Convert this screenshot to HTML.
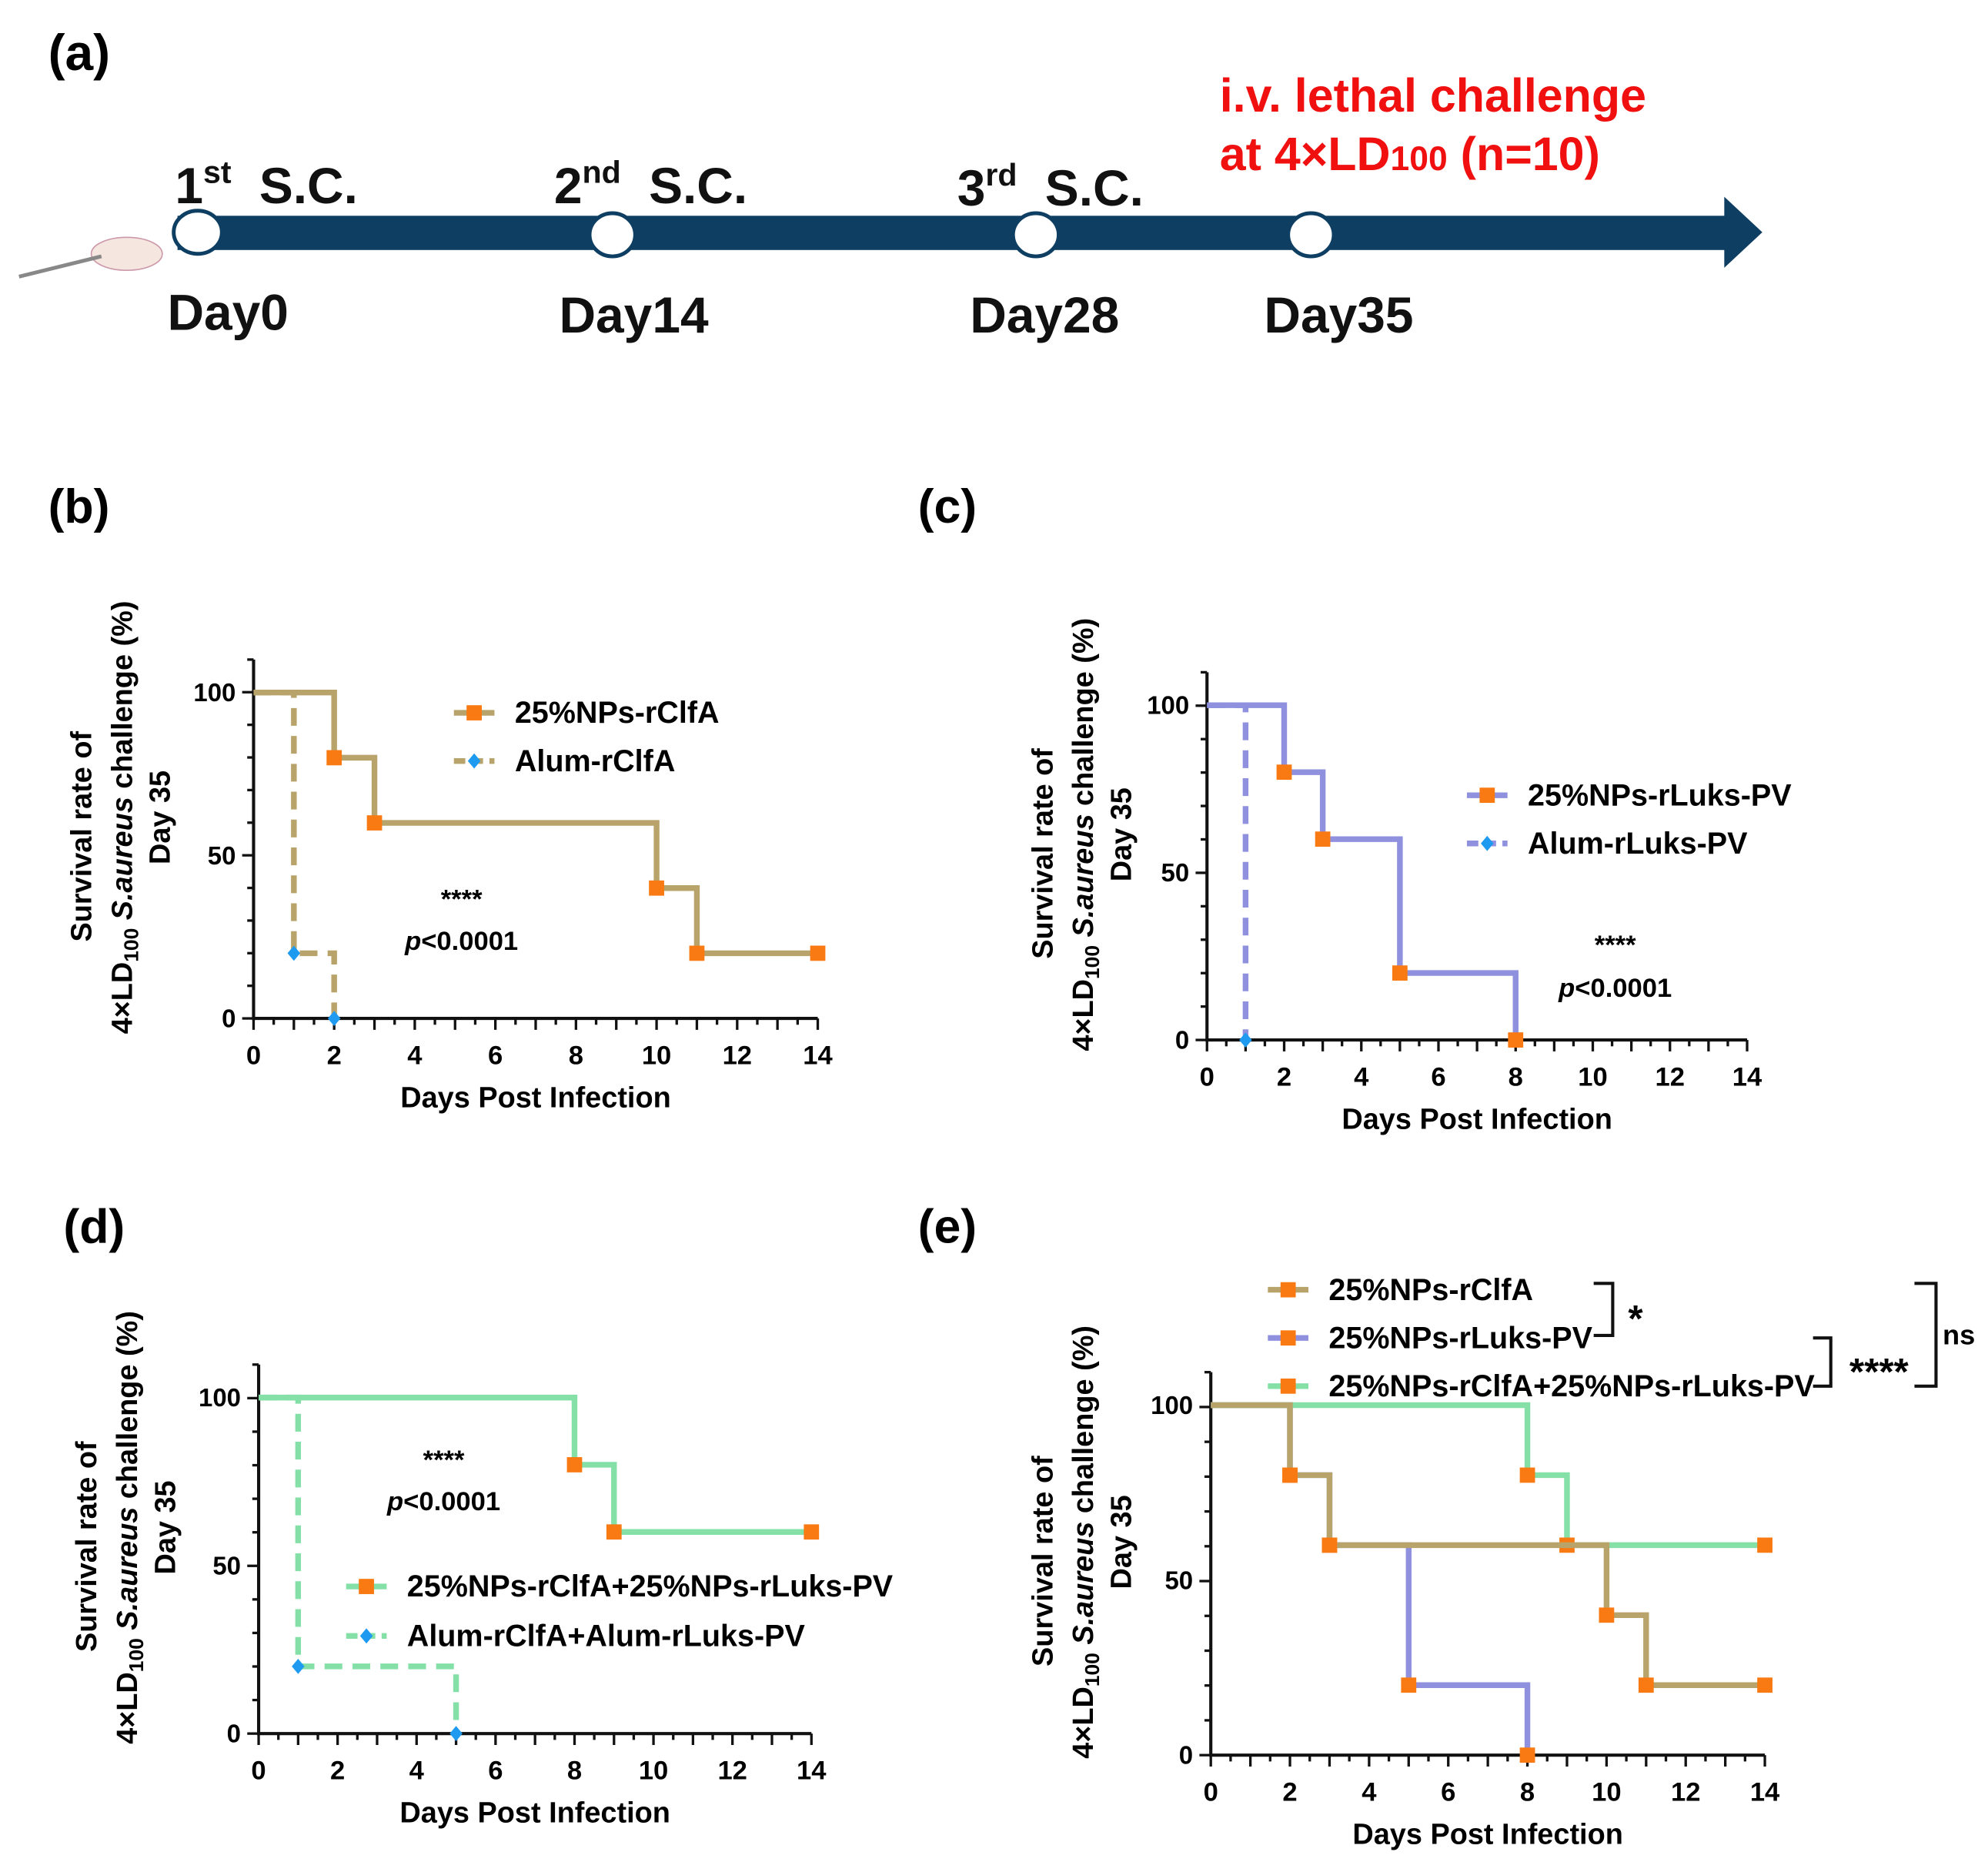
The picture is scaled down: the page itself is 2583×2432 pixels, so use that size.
<!DOCTYPE html>
<html><head><meta charset="utf-8"><style>
html,body{margin:0;padding:0;background:#fff}
svg{display:block;font-family:"Liberation Sans",Arial,sans-serif}
</style></head><body>
<svg id="fig" width="2583" height="2432" viewBox="0 0 1568 1476" xmlns="http://www.w3.org/2000/svg">
<g font-weight="bold">
<text x="38" y="55" font-size="40">(a)</text>
<rect x="140" y="170" width="1225" height="27" fill="#0e3f63"/>
<polygon points="1360,155 1390,183 1360,211" fill="#0e3f63"/>
<g fill="#fff" stroke="#0e3f63" stroke-width="3">
<ellipse cx="156" cy="183" rx="19" ry="17"/>
<ellipse cx="483" cy="185" rx="18" ry="17"/>
<ellipse cx="817" cy="185" rx="18" ry="17"/>
<ellipse cx="1034" cy="185" rx="18" ry="17"/>
</g>
<g>
<ellipse cx="100" cy="200" rx="28" ry="13" fill="#f5e6e0" stroke="#c9a" stroke-width="1"/>
<line x1="15" y1="218" x2="80" y2="202" stroke="#888" stroke-width="3"/>
</g>
<g font-size="40" fill="#111">
<text x="138" y="160">1<tspan font-size="25" dy="-16">st</tspan><tspan dy="16" dx="22">S.C.</tspan></text>
<text x="437" y="160">2<tspan font-size="25" dy="-16">nd</tspan><tspan dy="16" dx="22">S.C.</tspan></text>
<text x="755" y="162">3<tspan font-size="25" dy="-16">rd</tspan><tspan dy="16" dx="22">S.C.</tspan></text>
<text x="132" y="260">Day0</text>
<text x="441" y="262">Day14</text>
<text x="765" y="262">Day28</text>
<text x="997" y="262">Day35</text>
</g>
<g font-size="37" fill="#f01010">
<text x="962" y="88">i.v. lethal challenge</text>
<text x="962" y="134">at 4×LD<tspan font-size="27">100</tspan> (n=10)</text>
</g>
</g>
<g id="charts"></g>
</svg>
<script>
// Panel b
const bX1 = [0,2,3,10,11,14], bY1 = [100,80,60,40,20,20];
const bX2 = [0,1,2], bY2 = [100,20,0];
// Panel c
const cX1 = [0,2,3,5,8], cY1 = [100,80,60,20,0];
const cX2 = [0,1], cY2 = [100,0];
// Panel d
const dX1 = [0,8,9,14], dY1 = [100,80,60,60];
const dX2 = [0,1,5], dY2 = [100,20,0];
// Panel e
const eXa = [0,2,3,10,11,14], eYa = [100,80,60,40,20,20];
const eXb = [0,2,3,5,8], eYb = [100,80,60,20,0];
const eXc = [0,8,9,14], eYc = [100,80,60,60];
const xTicks = [0,2,4,6,8,10,12,14];
const yTicks = [0,50,100];

const NS="http://www.w3.org/2000/svg";
const root=document.getElementById('charts');
function mk(tag,attrs,parent){const e=document.createElementNS(NS,tag);for(const k in attrs)e.setAttribute(k,attrs[k]);(parent||root).appendChild(e);return e;}
const TAN="#b8a46a",LAV="#8f90de",GRN="#84e0a6",ORG="#f97a12",BLU="#1e9bf0";

function panel(p){
  const g=mk('g',{});
  
  
  const sx=v=>p.x0+(p.x1-p.x0)*v/14, sy=v=>p.y0+(p.y100-p.y0)*v/100;
  const lab=mk('text',{x:p.lx,y:p.ly,'font-size':38,'font-weight':'bold'},g);lab.textContent=p.label;
  
  
  const ax=mk('path',{d:`M${sx(0)},${p.y100-26}V${p.y0}H${sx(14)}`,stroke:'#111','stroke-width':2.5,fill:'none'},g);
  
  
  for(let i=0;i<=28;i++){const x=sx(i/2);mk('line',{x1:x,x2:x,y1:p.y0,y2:p.y0+(i%2?5:9),stroke:'#111','stroke-width':2},g);}
  for(let i=0;i<=11;i++){const y=p.y0+(p.y100-26-p.y0)*i/11;mk('line',{x1:sx(0)-(i%5==0&&i<11?9:5),x2:sx(0),y1:y,y2:y,stroke:'#111','stroke-width':2},g);}
  xTicks.forEach(t=>{const e=mk('text',{x:sx(t),y:p.y0+36,'text-anchor':'middle','font-size':21,'font-weight':'bold'},g);e.textContent=t;
    
    });
  yTicks.forEach(t=>{const e=mk('text',{x:sx(0)-14,y:sy(t)+7,'text-anchor':'end','font-size':20,'font-weight':'bold'},g);e.textContent=t;
    
    });
  const xt=mk('text',{x:(sx(0)+sx(14))/2,y:p.y0+70,'text-anchor':'middle','font-size':23,'font-weight':'bold'},g);xt.textContent='Days Post Infection';
  
  
  const cy=(p.y0+p.y100)/2-30, cx=p.ylx;
  const yt=mk('text',{transform:`translate(${cx},${cy}) rotate(-90)`,'text-anchor':'middle','font-size':23,'font-weight':'bold'},g);
  
  
  const t1=mk('tspan',{x:-15,y:0},yt);t1.textContent='Survival rate of';
  const t2=mk('tspan',{x:0,y:32},yt);t2.innerHTML='4×LD<tspan font-size="16" dy="5">100</tspan><tspan dy="-5">  </tspan><tspan font-style="italic">S.aureus</tspan> challenge (%)';
  const t3=mk('tspan',{x:0,y:62},yt);t3.textContent='Day 35';
  p.series.forEach(s=>{
    let d=`M${sx(s.xs[0])},${sy(s.ys[0])}`;
    for(let i=1;i<s.xs.length;i++){d+=`H${sx(s.xs[i])}V${sy(s.ys[i])}`;}
    const l=mk('path',{d,stroke:s.c,'stroke-width':4.5,fill:'none','stroke-dasharray':s.dash?'14,8':'none'},g);
    
    
    for(let i=1;i<s.xs.length;i++){const x=sx(s.xs[i]),y=sy(s.ys[i]);
      const m=s.dash?mk('polygon',{points:`${x},${y-6} ${x+5},${y} ${x},${y+6} ${x-5},${y}`,fill:BLU},g):mk('rect',{x:x-6,y:y-6,width:12,height:12,fill:ORG},g);
      
      }
  });
  (p.legend||[]).forEach(L=>{
    const lg=mk('g',{},g);
    
    
    mk('line',{x1:L.x,x2:L.x+32,y1:L.y,y2:L.y,stroke:L.c,'stroke-width':4.5,'stroke-dasharray':L.dash?'9,5':'none'},lg);
    if(L.dash)mk('polygon',{points:`${L.x+16},${L.y-6} ${L.x+21},${L.y} ${L.x+16},${L.y+6} ${L.x+11},${L.y}`,fill:BLU},lg);
    else mk('rect',{x:L.x+10,y:L.y-6,width:12,height:12,fill:ORG},lg);
    const e=mk('text',{x:L.x+48,y:L.y+8,'font-size':24,'font-weight':'bold'},lg);e.textContent=L.t;
  });
  (p.texts||[]).forEach(T=>{const e=mk('text',{x:T.x,y:T.y,'font-size':T.s||21,'font-weight':'bold','text-anchor':'middle'},g);e.innerHTML=T.t;
    
    });
}
const pv='<tspan font-style="italic">p</tspan>&lt;0.0001';
panel({name:'panel-b',label:'(b)',lx:38,ly:412,x0:200,x1:645,y0:803,y100:546,ylx:72,
 series:[{xs:bX1,ys:bY1,c:TAN,n:'nps-rclfa'},{xs:bX2,ys:bY2,c:TAN,dash:1,n:'alum-rclfa'}],
 legend:[{x:358,y:562,c:TAN,t:'25%NPs-rClfA'},{x:358,y:600,c:TAN,dash:1,t:'Alum-rClfA'}],
 texts:[{x:364,y:716,t:'****'},{x:364,y:749,t:pv}]});
panel({name:'panel-c',label:'(c)',lx:724,ly:412,x0:952,x1:1378,y0:820,y100:556,ylx:830,
 series:[{xs:cX1,ys:cY1,c:LAV,n:'nps-rluks'},{xs:cX2,ys:cY2,c:LAV,dash:1,n:'alum-rluks'}],
 legend:[{x:1157,y:627,c:LAV,t:'25%NPs-rLuks-PV'},{x:1157,y:665,c:LAV,dash:1,t:'Alum-rLuks-PV'}],
 texts:[{x:1274,y:752,t:'****'},{x:1274,y:786,t:pv}]});
panel({name:'panel-d',label:'(d)',lx:50,ly:980,x0:204,x1:640,y0:1367,y100:1102,ylx:76,
 series:[{xs:dX1,ys:dY1,c:GRN,n:'nps-combo'},{xs:dX2,ys:dY2,c:GRN,dash:1,n:'alum-combo'}],
 legend:[{x:273,y:1251,c:GRN,t:'25%NPs-rClfA+25%NPs-rLuks-PV'},{x:273,y:1290,c:GRN,dash:1,t:'Alum-rClfA+Alum-rLuks-PV'}],
 texts:[{x:350,y:1158,t:'****'},{x:350,y:1191,t:pv}]});
panel({name:'panel-e',label:'(e)',lx:724,ly:980,x0:955,x1:1392,y0:1384,y100:1108,ylx:830,
 series:[{xs:eXb,ys:eYb,c:LAV,n:'e-rluks'},{xs:eXc,ys:eYc,c:GRN,n:'e-combo'},{xs:eXa,ys:eYa,c:TAN,n:'e-rclfa'}],
 legend:[{x:1000,y:1017,c:TAN,t:'25%NPs-rClfA'},{x:1000,y:1055,c:LAV,t:'25%NPs-rLuks-PV'},{x:1000,y:1093,c:GRN,t:'25%NPs-rClfA+25%NPs-rLuks-PV'}],
 texts:[{x:1290,y:1050,t:'*',s:30},{x:1482,y:1092,t:'****',s:30},{x:1545,y:1060,t:'ns',s:22}]});
const br=mk('path',{d:'M1257,1012H1272V1053H1257M1430,1055H1444V1093H1430M1510,1012H1527V1093H1510',stroke:'#111','stroke-width':2.5,fill:'none'});


</script>
</body></html>
